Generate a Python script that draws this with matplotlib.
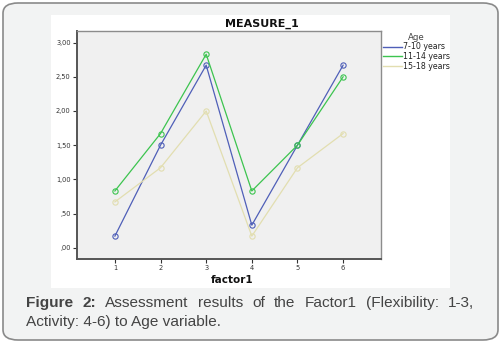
import matplotlib
matplotlib.use("Agg")
import matplotlib.pyplot as plt
from matplotlib.patches import FancyBboxPatch, Rectangle
from matplotlib.lines import Line2D

factor = [1, 2, 3, 4, 5, 6]
series_names = ["7-10 years", "11-14 years", "15-18 years"]
age_7_10 = [0.17, 1.50, 2.67, 0.33, 1.50, 2.67]
age_11_14 = [0.83, 1.67, 2.83, 0.83, 1.50, 2.50]
age_15_18 = [0.67, 1.17, 2.00, 0.17, 1.17, 1.67]
yticks = [0.0, 0.5, 1.0, 1.5, 2.0, 2.5, 3.0]
ytick_labels = [",00", ",50", "1,00", "1,50", "2,00", "2,50", "3,00"]
colors = ["#4f5fb8", "#3cc44f", "#e2deb0"]

W, H = 501, 343
fig = plt.figure(figsize=(W / 100, H / 100), dpi=100)
fig.patch.set_facecolor("white")

def fx(px):
    return px / W

def fy(py):
    return 1 - py / H

# outer rounded panel
panel = FancyBboxPatch((fx(3), fy(340)), fx(495), 337 / H,
                       boxstyle="round,pad=0,rounding_size=0.03",
                       transform=fig.transFigure, facecolor="#f2f3f3",
                       edgecolor="#8a8a8a", linewidth=1.2, zorder=-10)
fig.patches.append(panel)
# white chart area
fig.patches.append(Rectangle((fx(51), fy(288)), fx(399), 273 / H,
                             transform=fig.transFigure, facecolor="white",
                             edgecolor="none", zorder=-9))

ax = fig.add_axes([fx(77), fy(259), fx(304), 228 / H])
ax.set_facecolor("#f0f0f0")
handles = []
for name, vals, c in zip(series_names, [age_7_10, age_11_14, age_15_18], colors):
    ax.plot(factor, vals, color=c, linewidth=0.9, marker="o", markersize=3.8,
            markerfacecolor="none", markeredgecolor=c, markeredgewidth=0.8)
    handles.append(Line2D([], [], color=c, linewidth=1.0, label=name))

ax.set_xlim(0.17, 6.83)
ax.set_ylim(-0.165, 3.17)
ax.set_xticks(factor)
ax.set_xticklabels([str(f) for f in factor])
ax.set_yticks(yticks)
ax.set_yticklabels(ytick_labels)
ax.tick_params(labelsize=4.8, colors="#333333", length=3, width=0.8, pad=1.5)
for s in ["top", "right"]:
    ax.spines[s].set_color("#8c8c8c")
    ax.spines[s].set_linewidth(1.0)
for s in ["left", "bottom"]:
    ax.spines[s].set_color("#555555")
    ax.spines[s].set_linewidth(1.4)

fig.text(fx(262), fy(24), "MEASURE_1", fontsize=8, fontweight="bold",
         color="#111111", ha="center", va="center")
ax.set_xlabel("factor1", fontsize=7.5, fontweight="bold", color="#111111")
ax.xaxis.set_label_coords((232 - 77) / 304, -(280 - 259) / 228)
ax.xaxis.label.set_va("center")

leg = ax.legend(handles=handles, loc="upper left",
                bbox_to_anchor=((381 - 77) / 304, 1 - (31 - 31) / 228),
                frameon=False, fontsize=5.7, title="Age", title_fontsize=6.2,
                handlelength=2.4, handletextpad=0.15, labelspacing=0.1,
                borderaxespad=0, borderpad=0.2)
leg.get_title().set_color("#444444")
for t in leg.get_texts():
    t.set_color("#222222")

# caption, justified manually on the first line
fig.canvas.draw()
renderer = fig.canvas.get_renderer()
cap_color = "#444444"
fs = 11.1
line1 = [("Figure", "bold"), ("2:", "bold"), ("Assessment", "normal"), ("results", "normal"),
         ("of", "normal"), ("the", "normal"), ("Factor1", "normal"), ("(Flexibility:", "normal"),
         ("1-3,", "normal")]
x0, x1 = 26, 474
texts = []
widths = []
for w, wt in line1:
    t = fig.text(0, fy(303), w, fontsize=fs, fontweight=wt, color=cap_color,
                 family="Liberation Sans", va="center", ha="left")
    texts.append(t)
    widths.append(t.get_window_extent(renderer).width)
gap = (x1 - x0 - sum(widths)) / (len(widths) - 1)
x = x0
for t, w in zip(texts, widths):
    t.set_x(fx(x))
    x += w + gap
fig.text(fx(26), fy(322), "Activity: 4-6) to Age variable.", fontsize=fs,
         color=cap_color, family="Liberation Sans", va="center", ha="left")

fig.savefig("out.png", dpi=100)
